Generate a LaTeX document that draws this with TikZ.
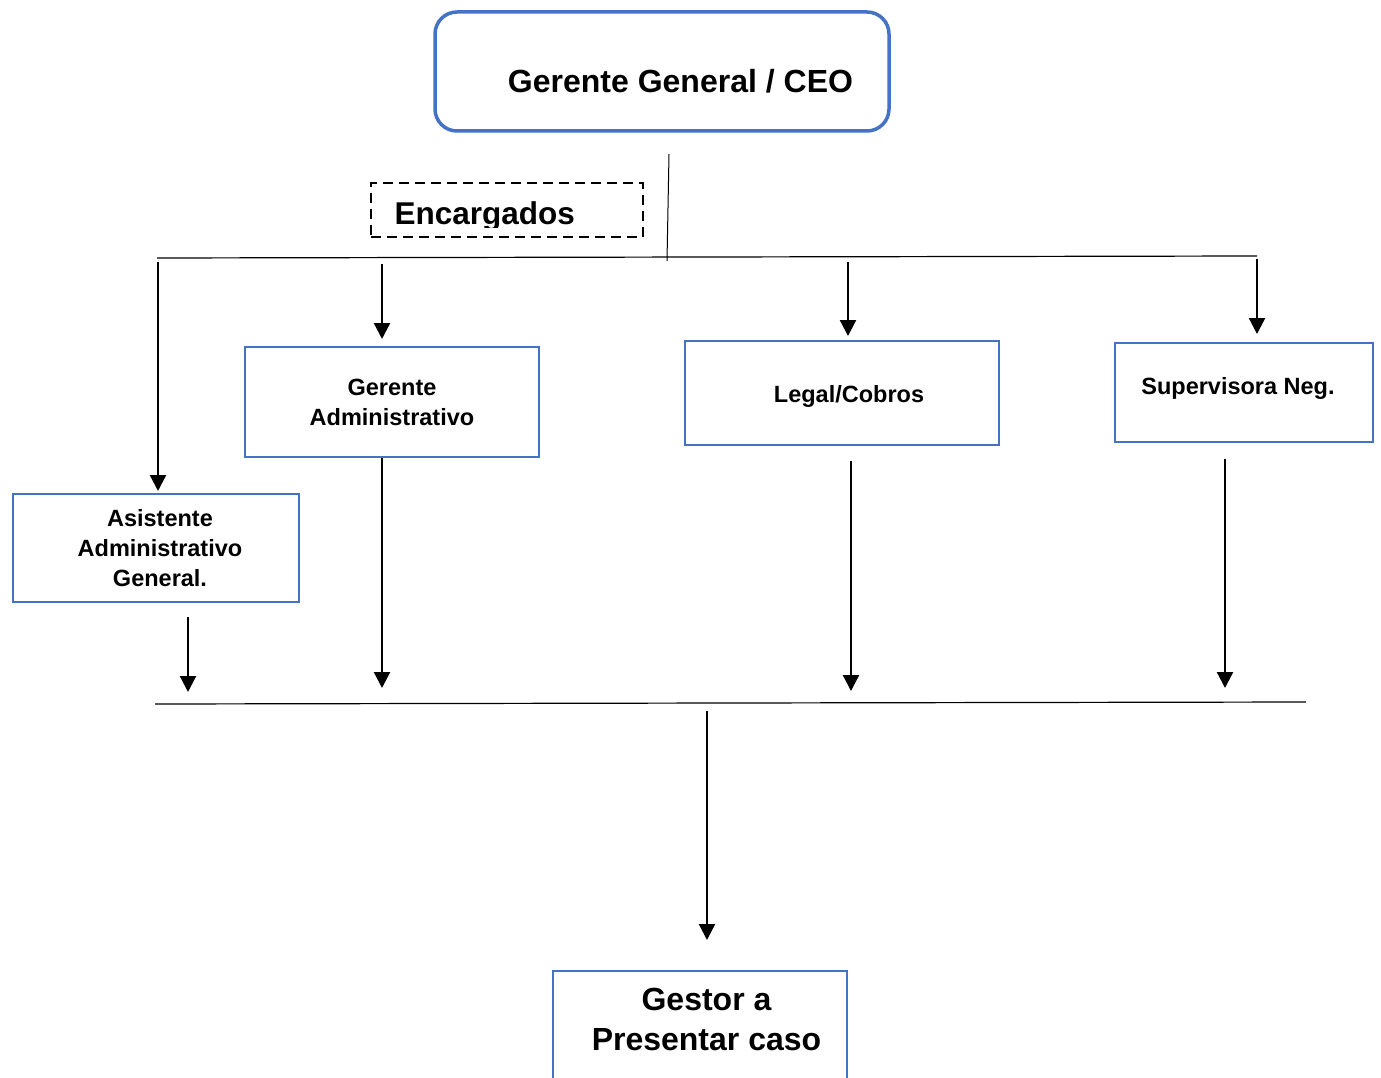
\documentclass[tikz,border=0pt]{standalone}
\usepackage{fontspec}
\setmainfont{Liberation Sans}
\usetikzlibrary{arrows.meta}
\definecolor{boxblue}{HTML}{4472C4}
\begin{document}
\begin{tikzpicture}[x=1pt,y=-1pt,
  box/.style={draw=boxblue,line width=2pt,inner sep=0pt,align=center,font=\bfseries\fontsize{23.5}{30}\selectfont},
  ceobox/.style={draw=boxblue,line width=3.5pt,rounded corners=22pt},
  dashbox/.style={draw=black,line width=2.5pt,dash pattern=on 10pt off 6pt},
  bigtext/.style={font=\bfseries\fontsize{32}{38}\selectfont},
  midtext/.style={font=\bfseries\fontsize{23.5}{30}\selectfont,align=center},
  arr/.style={line width=2.3pt,-{Triangle[width=16pt,length=16pt]}},
  busline/.style={line width=1.2pt}]
\useasboundingbox (0,0) rectangle (1381,1078);
\fill[white] (0,0) rectangle (1381,1078);
% boxes
\node[ceobox,minimum width=454pt,minimum height=119pt] (ceo) at (662,71.5) {};
\node[bigtext,anchor=base] (ceot) at (680.5,93) {Gerente General / CEO};
\node[dashbox,minimum width=272pt,minimum height=54pt] (enc) at (507,210) {};
\begin{scope}
\clip (371,183) rectangle (643,227.3);
\node[bigtext,anchor=base west,font=\bfseries\fontsize{31.5}{38}\selectfont] (enct) at (391,224.3) {Encargados};
\end{scope}
\node[box,minimum width=294pt,minimum height=110pt] (gadm) at (392,402) {Gerente\\Administrativo};
\node[box,minimum width=314pt,minimum height=104pt] (legal) at (842,393) {};
\node[midtext,anchor=base] (legalt) at (849,402) {Legal/Cobros};
\node[box,minimum width=258pt,minimum height=99pt] (sup) at (1244,392.5) {};
\node[midtext,anchor=base] (supt) at (1238,394.5) {Supervisora Neg.};
\node[box,minimum width=286pt,minimum height=108pt] (asis) at (156,548) {};
\node[midtext,inner sep=0pt] (asist) at (160,548) {Asistente\\Administrativo\\General.};
\node[box,minimum width=294pt,minimum height=130pt] (gestor) at (700,1036) {};
\node[bigtext,anchor=base] (gest1) at (706.5,1010) {Gestor a};
\node[bigtext,anchor=base] (gest2) at (706.5,1050) {Presentar caso};
% top connectors
\coordinate (t1) at (669,154);
\coordinate (t2) at (667,261);
\draw[line width=1pt] (t1) -- (t2);
\coordinate (b1w) at (157,258);
\coordinate (b1e) at (1257,256);
\draw[busline] (b1w) -- (b1e);
\coordinate (d1) at (158,262);
\coordinate (d2) at (382,264);
\coordinate (d3) at (848,262);
\coordinate (d4) at (1257,259);
\draw[arr,shorten >=2pt] (d1) -- (d1 |- asis.north);
\draw[arr,shorten >=7pt] (d2) -- (d2 |- gadm.north);
\draw[arr,shorten >=4pt] (d3) -- (d3 |- legal.north);
\draw[arr,shorten >=8pt] (d4) -- (d4 |- sup.north);
% bottom connectors
\coordinate (b2w) at (155,704);
\coordinate (b2e) at (1306,702);
\draw[busline] (b2w) -- (b2e);
\coordinate (u1s) at (188,617);
\coordinate (u1e) at (188,692);
\coordinate (u2s) at (382,458);
\coordinate (u2e) at (382,688);
\coordinate (u3s) at (851,461);
\coordinate (u3e) at (851,691);
\coordinate (u4s) at (1225,459);
\coordinate (u4e) at (1225,688);
\draw[arr] (u1s) -- (u1e);
\draw[arr] (u2s) -- (u2e);
\draw[arr] (u3s) -- (u3e);
\draw[arr] (u4s) -- (u4e);
\coordinate (g1) at (707,711);
\draw[arr,shorten >=30pt] (g1) -- (g1 |- gestor.north);
\end{tikzpicture}
\end{document}
